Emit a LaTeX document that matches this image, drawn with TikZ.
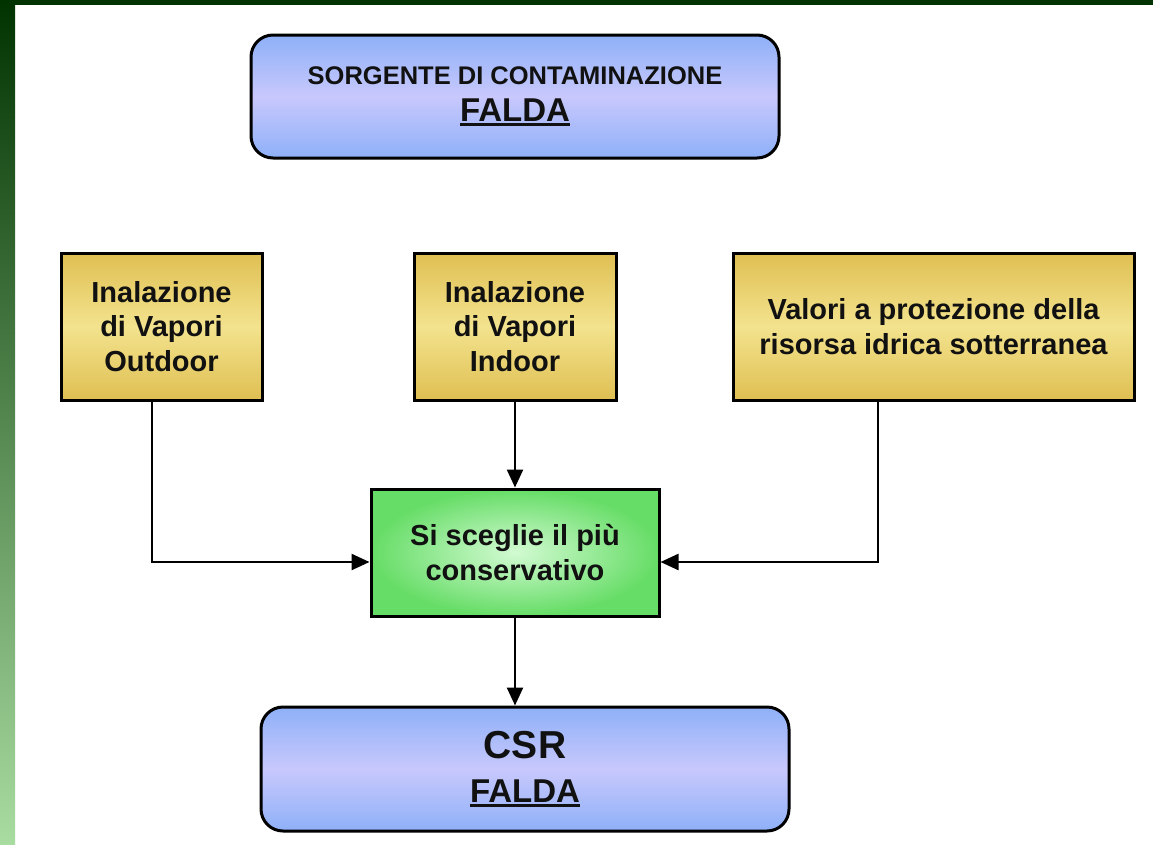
\documentclass[tikz,border=0pt]{standalone}
\usepackage{fontspec}
\setmainfont{Liberation Sans}
\usetikzlibrary{arrows.meta,shadings}
\definecolor{frame}{HTML}{003300}
\definecolor{stripend}{HTML}{A8DCA0}
\definecolor{blueedge}{HTML}{8EB0F8}
\definecolor{bluemid}{HTML}{C8C8FC}
\definecolor{goldedge}{HTML}{DFBF52}
\definecolor{goldmid}{HTML}{F3E38E}
\definecolor{greenedge}{HTML}{66DD66}
\definecolor{greenmid}{HTML}{D2FAD2}
\definecolor{ink}{HTML}{111111}
% thick underline for the FALDA labels
\newcommand\thickul[1]{\setbox0\hbox{#1}\rlap{\rule[-4.5pt]{\wd0}{3pt}}\box0}
\tikzset{
  txt/.style={text=ink, align=center},
  bluebox/.style={txt, draw=black, line width=3pt, rounded corners=22pt,
    top color=blueedge, bottom color=blueedge, middle color=bluemid},
  goldbox/.style={txt, draw=black, line width=3pt,
    top color=goldedge, bottom color=goldedge, middle color=goldmid,
    font=\bfseries\fontsize{29}{34.5}\selectfont},
  greenbox/.style={txt, draw=black, line width=3pt,
    inner color=greenmid, outer color=greenedge,
    font=\bfseries\fontsize{29}{35}\selectfont},
  arr/.style={draw=black, line width=2.4pt, -{Triangle[length=18pt,width=16pt]}},
}
\begin{document}
\begin{tikzpicture}[x=1pt,y=-1pt]
\useasboundingbox (0,0) rectangle (1153,844);
% page frame: dark band on top and shaded strip on the left
\fill[white] (0,0) rectangle (1153,844);
\shade[top color=frame, bottom color=stripend] (0,0) rectangle (15,844);
\fill[frame] (0,0) rectangle (1153,5);

% boxes
\node[bluebox, minimum width=528pt, minimum height=123pt,
      font=\bfseries\fontsize{25.5}{37}\selectfont] (src) at (515,96.5)
  {SORGENTE DI CONTAMINAZIONE\\
   {\fontsize{33}{37}\selectfont\thickul{FALDA}}};
\node[goldbox, minimum width=201pt, minimum height=147pt] (lo) at (161.5,326.5)
  {Inalazione\\di Vapori\\Outdoor};
\node[goldbox, minimum width=202pt, minimum height=147pt] (mi) at (515,326.5)
  {Inalazione\\di Vapori\\Indoor};
\node[goldbox, minimum width=401pt, minimum height=147pt] (ri) at (933.5,326.5)
  {Valori a protezione della\\risorsa idrica sotterranea};
\node[greenbox, minimum width=288pt, minimum height=127pt] (gr) at (515,552.5)
  {Si sceglie il più\\conservativo};
\node[bluebox, minimum width=528pt, minimum height=124pt,
      font=\bfseries\fontsize{39}{44}\selectfont] (bo) at (525,769)
  {CSR\\
   {\fontsize{33}{44}\selectfont\thickul{FALDA}}};

% connectors
\draw[arr] ([xshift=-9.5pt]lo.south) |- ([yshift=-9.5pt]gr.west);
\draw[arr] (mi.south) -- (gr.north);
\draw[arr] ([xshift=-55.5pt]ri.south) |- ([yshift=-9.5pt]gr.east);
\draw[arr] (gr.south) -- (gr.south |- bo.north);
\end{tikzpicture}
\end{document}
